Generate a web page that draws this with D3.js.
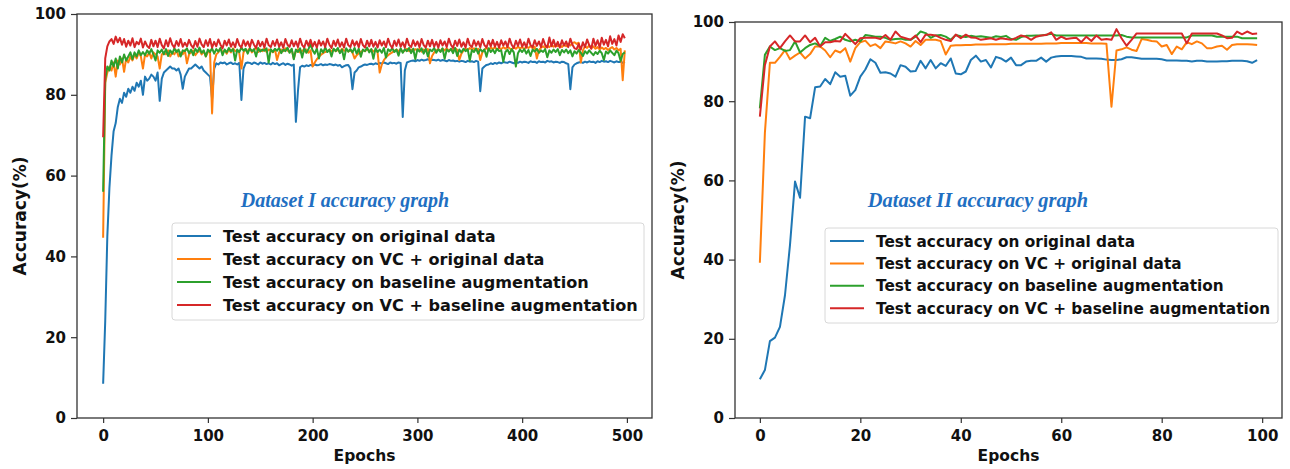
<!DOCTYPE html>
<html>
<head>
<meta charset="utf-8">
<script src="https://cdn.jsdelivr.net/npm/d3@7"></script>
<style>
  body { margin: 0; background: #fff; }
  svg { display: block; }
</style>
</head>
<body>
<svg></svg>
<script>
const seriesNames = [
	'Test accuracy on original data',
	'Test accuracy on VC + original data',
	'Test accuracy on baseline augmentation',
	'Test accuracy on VC + baseline augmentation'
];
const colors = ['#1f77b4', '#ff7f0e', '#2ca02c', '#d62728'];

const epochsI = d3.range(0, 500, 2);
const xTicksI = [0, 100, 200, 300, 400, 500];
const origI = [
	8.5, 24, 45, 57, 65, 71, 73, 77, 79, 78,
	80.5, 79.5, 81.5, 80.5, 82, 81, 83, 82, 83.5, 80,
	84.5, 83.5, 84, 85, 84.5, 83.5, 85.5, 78.5, 84, 85.5,
	86, 86.5, 87, 86.5, 86.5, 86, 86.5, 85, 81.5, 84.5,
	85.5, 86.5, 86.5, 87, 87.5, 87, 86.5, 87, 86, 85.5,
	85, 84.5, 79, 86.5, 87.8, 87.5, 88, 87.8, 88, 87.5,
	87.8, 88, 87.6, 87.8, 87.5, 87.9, 78.7, 86.5, 87.8, 88,
	87.9, 87.6, 88, 87.8, 87.5, 88, 87.7, 87.9, 87.6, 87.8,
	87.5, 87.9, 87.6, 87.8, 87.3, 87.6, 87.8, 87.4, 87.7, 87.5,
	87.2, 87.5, 73.3, 81, 86.8, 87.2, 87, 87.3, 87.1, 87.4,
	87.2, 87.5, 87.3, 87.4, 87.6, 87.3, 87.5, 87.4, 87.6, 87.5,
	87.3, 87.5, 87.2, 87.4, 86.8, 87.1, 87.3, 87.4, 86.5, 81.4,
	85.5, 86, 86.8, 87, 87.3, 87.5, 87.4, 87.6, 87.7, 87.5,
	87.8, 87.6, 87.9, 87.7, 88, 87.8, 87.6, 88, 87.8, 87.9,
	87.7, 88, 87.9, 74.5, 86, 88, 88.2, 88.4, 88.5, 88.3,
	88.6, 88.4, 88.7, 88.5, 88.6, 88.8, 88.5, 88.7, 88.6, 88.5,
	88.7, 88.4, 88.6, 88.5, 88.3, 88.6, 88.4, 88.5, 88.3, 88.4,
	88.2, 88.4, 88.3, 88.1, 88.4, 88.2, 88.3, 88.1, 88.4, 88.2,
	80.9, 86.5, 87, 87.4, 87.5, 87.8, 87.6, 87.9, 87.7, 88,
	87.8, 88.1, 88, 87.9, 88.2, 88, 87.8, 88.1, 87.9, 88.2,
	88, 88.2, 88.1, 87.9, 88.3, 88.1, 88.2, 87.9, 88.3, 88.1,
	88.2, 88, 88.4, 88.2, 88.3, 88, 88.2, 88.1, 87.9, 88.2,
	88.1, 87.8, 87.6, 81.4, 86.8, 87.5, 87.8, 88, 88.1, 87.9,
	88.2, 88, 88.3, 88.1, 88.2, 87.9, 88.3, 88.1, 88.4, 88.2,
	88.3, 88.1, 88.4, 88.2, 88, 88.3, 88.1, 88.2, 87.9, 88.2
];
const vcOrigI = [
	44.6, 83, 85.5, 87, 86, 88, 84.5, 88.5, 87.5, 89,
	85.7, 89, 88, 89.5, 88.5, 90, 89, 90.5, 89.5, 86.5,
	90, 89.5, 90.5, 89, 90.5, 90, 89.5, 86.5, 90, 90.5,
	90, 91, 89.5, 90.5, 90, 91, 89.5, 90.5, 90, 91,
	87.8, 90, 90.5, 91, 89.8, 90.5, 91, 90, 90.8, 89.5,
	90.5, 91, 75.4, 88, 90, 90.5, 91.5, 90.5, 91, 90.2,
	91.2, 90.5, 91.5, 90.8, 91, 90.3, 86.5, 90.5, 91.2, 90.8,
	91.5, 90.5, 91, 91.8, 90.6, 91.2, 90.8, 91.5, 90.6, 91.2,
	91, 90.5, 91.3, 88.6, 90.5, 91.2, 90.8, 91.5, 91, 90.6,
	91.2, 89, 90.8, 91.3, 90.5, 91, 90.7, 91.2, 90.4, 91,
	87, 88, 88.8, 89.4, 89.9, 90.3, 90.6, 90.8, 91.2, 90.7,
	91.3, 90.8, 91.1, 90.6, 91.4, 90.9, 91.2, 90.7, 91, 90.5,
	89, 89.8, 90.3, 90.6, 91, 90.8, 91.3, 90.9, 91.2, 90.7,
	91.1, 90.5, 85.5, 87.5, 88.6, 89.3, 89.8, 90.2, 90.5, 90.9,
	91.2, 90.8, 91.3, 90.6, 91, 91.4, 90.8, 91.2, 90.9, 91.3,
	91, 91.4, 90.7, 91.2, 90.9, 91.3, 87.8, 89.6, 90.5, 91,
	91.3, 90.8, 91.4, 91, 91.5, 90.9, 91.3, 91, 91.6, 91.1,
	88.6, 90.2, 91, 91.4, 91, 91.6, 91.2, 91.5, 91, 91.4,
	88.6, 90.5, 91.2, 91.6, 91.1, 91.7, 91.3, 91.8, 91.2, 91.6,
	91.3, 91.8, 91.4, 91.9, 91.5, 91.2, 91.8, 91.4, 91.9, 91.5,
	91.8, 91.3, 91.9, 91.6, 92, 91.5, 91.9, 89, 91, 91.7,
	92, 91.6, 92.2, 91.8, 92.3, 91.9, 92.4, 92, 92.3, 91.8,
	92.4, 92, 92.6, 92.2, 92.8, 93, 92.6, 92.9, 88, 91,
	92, 91.6, 92.2, 91.5, 92, 91.4, 91.8, 91.2, 91.7, 91.3,
	91.6, 91.1, 91.5, 91.8, 91.2, 91.6, 91, 91.4, 83.6, 91
];
const baseI = [
	56, 83.8, 87, 86, 88.5, 87, 89, 86.5, 89.5, 88,
	90, 88.5, 89.5, 90.5, 88.8, 90.5, 89.5, 91, 89.8, 90.6,
	89.8, 91, 90.2, 91.3, 90, 88.5, 91, 90.4, 91.2, 90,
	91.3, 89.6, 91, 90.2, 91.5, 90.6, 91.2, 89.5, 91, 90.8,
	91.5, 90.3, 91.2, 89.8, 91.4, 90.6, 91.7, 90.4, 91, 89.5,
	91.2, 90.6, 91.5, 90.2, 91.3, 90.7, 91.6, 89.8, 91.2, 90.5,
	91.6, 90.8, 91.3, 88.5, 91.2, 90.6, 91.7, 90.9, 91.4, 90.2,
	91.5, 90.8, 91.3, 89.5, 91.6, 90.7, 91.2, 90.9, 91.5, 88,
	91.3, 90.6, 91.4, 90.9, 91.6, 90.3, 91.2, 90.8, 91.7, 90.4,
	91.4, 88.8, 91.2, 90.6, 91.5, 89.2, 91.6, 90.4, 91.3, 92.5,
	91, 90.2, 91.5, 89, 91.3, 90.5, 91.7, 90.6, 91.2, 89.5,
	91.4, 90.8, 91.6, 90.3, 91.2, 88.8, 91.5, 90.7, 91.3, 90.5,
	91.6, 90.2, 91.4, 89.4, 91.2, 90.8, 91.7, 90.5, 91.3, 88.9,
	91.5, 90.6, 91.2, 90.4, 91.6, 89.2, 91.3, 90.8, 91.5, 90.6,
	91.2, 89.7, 91.5, 90.4, 91.3, 90.8, 91.6, 90.3, 91.4, 88.8,
	91.3, 90.7, 91.5, 90.2, 91.4, 89.5, 91.2, 90.8, 91.6, 90.4,
	91.3, 90.6, 91.5, 88.9, 91.2, 90.7, 91.4, 90.3, 91.6, 89.6,
	91.2, 90.5, 91.4, 90.8, 91.3, 88.5, 91.1, 90.6, 91.5, 90.2,
	91.3, 90.7, 91.2, 89.4, 91.5, 90.6, 91.2, 90.3, 91.4, 90.8,
	91, 88.2, 90.6, 91.2, 90.1, 91.3, 90.5, 87, 90.3, 91.2,
	90.6, 91.3, 90.2, 91.1, 89.6, 91.2, 90.7, 91.4, 90.4, 91,
	90.6, 91.3, 89.3, 91, 90.4, 91.2, 90.6, 91.3, 89.8, 91.1,
	90.5, 91.2, 90.3, 91, 89.5, 90.8, 90.2, 91.1, 90.4, 89.6,
	90.8, 90.2, 91, 90.4, 89.8, 90.6, 90.1, 90.9, 90.3, 88.6,
	90.7, 90.2, 91, 90.4, 89.8, 90.9, 90.3, 88.4, 90.1, 90.5
];
const vcBaseI = [
	69.5, 89, 92, 93.2, 93.8, 92.6, 94.4, 93, 94.1, 92.4,
	93.8, 91.9, 93.4, 92.2, 94, 91.8, 93.1, 92.5, 93.9, 91.7,
	93.2, 92.1, 91.6, 93.6, 92, 93.4, 91.8, 93.9, 92.3, 91.5,
	93.5, 92, 94, 92.4, 91.7, 93.3, 92.1, 93.8, 91.9, 92.9,
	92, 93.6, 92.3, 91.6, 93.3, 91.9, 93.9, 92.5, 91.8, 93.5,
	92.1, 93.8, 91.7, 93.1, 92, 93.7, 92.4, 91.5, 93.4, 92.2,
	93.7, 91.9, 93, 91.8, 93.8, 92.3, 91.7, 93.5, 92.1, 93.2,
	91.8, 93.6, 92.4, 91.6, 93.4, 92, 93.1, 91.7, 93.9, 92.3,
	91.8, 93.3, 92.1, 93.7, 91.9, 93, 91.6, 93.8, 92.4, 91.9,
	93.5, 92, 93.2, 91.8, 93.9, 92.3, 91.7, 93.4, 92.1, 93.6,
	91.9, 93.1, 91.7, 93.5, 92.2, 93.2, 91.8, 93.9, 92.4, 91.6,
	93.4, 92.1, 93.7, 91.9, 93, 91.7, 93.9, 92.3, 91.8, 93.5,
	92.1, 93.2, 91.8, 93.8, 92.3, 91.7, 93.4, 92, 93.6, 91.9,
	93.1, 91.7, 93.5, 92.2, 93.2, 91.8, 93.9, 92.4, 91.6, 93.4,
	92.1, 93.7, 91.9, 93, 91.7, 93.9, 92.3, 91.8, 93.5, 92.1,
	93.2, 91.8, 93.8, 92.3, 91.7, 93.4, 92, 93.6, 91.9, 93.1,
	91.7, 93.5, 92.2, 93.2, 91.8, 93.9, 92.4, 91.6, 93.4, 92.1,
	93.7, 91.9, 93, 91.7, 93.9, 92.3, 91.8, 93.5, 92.1, 93.2,
	91.8, 93.8, 92.3, 91.7, 93.4, 92, 93.6, 91.9, 93.1, 91.7,
	93.5, 92.2, 93.2, 91.8, 93.9, 92.4, 91.6, 93.4, 92.1, 93.7,
	91.9, 93, 91.7, 93.9, 92.3, 91.8, 93.5, 92.1, 93.2, 91.8,
	93.8, 92.3, 91.7, 94.2, 92, 93.6, 91.9, 93.1, 91.7, 93.5,
	92.2, 93.2, 91.8, 93.9, 92.4, 91.5, 91.3, 92.6, 91.2, 93,
	91.8, 93.7, 92.3, 91.4, 93.9, 92.1, 93.5, 91.7, 94.1, 92.4,
	93.6, 92, 94.5, 92.6, 93.8, 92.2, 94.7, 93.1, 95, 94
];

// Dataset II: one reading per epoch
const epochsII = d3.range(0, 100);
const xTicksII = [0, 20, 40, 60, 80, 100];
const origII = [
	9.8, 12.1, 19.4, 20.3, 23, 31, 43.7, 59.7, 55.6, 76.1,
	75.7, 83.5, 83.7, 85.6, 84.3, 87.3, 86.2, 86.4, 81.4, 82.8,
	86.2, 88, 90.6, 89.7, 87.2, 87.3, 87, 86.2, 89.1, 88.7,
	87.5, 87.6, 90.2, 88.3, 90.4, 88.3, 89.6, 88.9, 90.8, 87,
	86.8, 87.5, 90.4, 91.5, 90, 90.4, 88.5, 91.2, 90.8, 90,
	91, 89.1, 89.1, 90, 90.2, 90.2, 91, 90, 91, 91.3,
	91.4, 91.4, 91.4, 91.3, 91.2, 90.8, 90.8, 90.8, 90.7, 90.5,
	90.4, 90.4, 90.6, 91.1, 91.1, 90.9, 90.7, 90.7, 90.7, 90.7,
	90.6, 90.3, 90.3, 90.3, 90.2, 90.2, 90, 90.2, 90.2, 90,
	90, 90, 90.1, 90.1, 90.2, 90.2, 90.2, 90.1, 89.7, 90.4
];
const vcOrigII = [
	39.2, 72, 89.7, 89.7, 91.2, 92.9, 90.6, 91.5, 92.3, 90.8,
	91.9, 93.8, 93.8, 92.8, 91.1, 92.8, 92.3, 93.4, 90, 93.4,
	94.9, 95.3, 93.9, 94.4, 93.4, 95.1, 94.9, 94.6, 95.1, 94.6,
	93.8, 95.2, 94.2, 95.5, 95.5, 95.5, 95.2, 91.8, 94, 94.1,
	94.1, 94.2, 94.2, 94.3, 94.3, 94.3, 94.4, 94.4, 94.4, 94.4,
	94.5, 94.5, 94.5, 94.5, 94.5, 94.5, 94.5, 94.6, 94.6, 94.6,
	94.7, 94.7, 94.7, 94.7, 94.7, 94.7, 94.6, 94.6, 94.6, 94.5,
	78.6, 92.8, 93.1, 93.6, 93, 92.7, 95.7, 95.5, 95.2, 95.1,
	93.8, 94.2, 91.9, 93.8, 93.1, 94.9, 94.4, 95.1, 94.6, 93.4,
	93.4, 93.8, 94, 93, 94.2, 94.4, 94.4, 94.4, 94.3, 94.2
];
const baseII = [
	78.2, 91.7, 93.8, 92.9, 93.4, 92.7, 92.9, 95.1, 92.3, 93.4,
	94.2, 94.6, 93.9, 96, 95.2, 95.7, 96.3, 95.5, 95.1, 95.5,
	95.1, 96.7, 96.5, 96.3, 96.3, 96, 95.5, 95.7, 95.8, 95.5,
	95.5, 96.3, 97.6, 97.2, 96, 96.6, 96.7, 96.3, 95.5, 96.7,
	96.4, 96.2, 96.5, 96.3, 96.4, 96.2, 96, 96.4, 96.2, 96.5,
	95.7, 95.5, 96.2, 96.5, 96.5, 96.6, 96.6, 96.8, 97, 96.6,
	96.6, 96.6, 96.6, 96.6, 96.6, 96.6, 96.6, 96.6, 96.6, 96.6,
	96.6, 96.6, 96.7, 96.3, 96.1, 96.1, 96.1, 96.1, 96.1, 96.1,
	96.1, 96.1, 96.1, 96.1, 96.1, 96.1, 96.6, 96.6, 96.6, 96.6,
	96.6, 96.3, 96.3, 96.3, 96.3, 96.3, 95.9, 95.9, 95.9, 95.9
];
const vcBaseII = [
	76.1, 89.1, 93.8, 95.1, 93.4, 95.1, 96.6, 95.1, 95.1, 96.6,
	94.9, 96, 93.8, 94.9, 94.9, 95.2, 95.1, 97, 95.7, 94.4,
	95.9, 96, 96, 96, 95.7, 96.7, 95.5, 97.6, 96.3, 95.9,
	95.5, 96.6, 94.9, 96.8, 96.8, 96.6, 96, 95.5, 95.2, 96.8,
	95.9, 96.8, 96.1, 96, 95.5, 95.7, 95.9, 95.5, 95.9, 95.7,
	95.5, 96, 96.6, 96.3, 95.5, 96.3, 96.6, 96.7, 97.4, 95.5,
	96.3, 95.7, 95.9, 96, 94.9, 96.3, 95.2, 96.6, 95.5, 95.7,
	95.5, 98.2, 95.9, 94, 95.5, 97.1, 97.1, 97.1, 97.1, 97.1,
	97.1, 97.1, 97.1, 97.1, 97.1, 94.6, 97.1, 97.1, 97.1, 97.1,
	97.1, 97.1, 96.6, 95.9, 96, 97.6, 96.9, 97.6, 97, 97.1
];
const yTicks = [0, 20, 40, 60, 80, 100];

const width = 1290;
const height = 469;

const svg = d3.select('svg')
	.attr('width', width)
	.attr('height', height)
	.style('font-family', '"DejaVu Sans", sans-serif');

function drawPanel(p) {
	const g = svg.append('g');
	const x = d3.scaleLinear().domain(p.xDomain).range([p.left, p.right]);
	const y = d3.scaleLinear().domain([0, 100]).range([p.bottom, p.top]);

	const line = d3.line()
		.x((d, i) => x(p.epochs[i]))
		.y(d => y(d));

	g.append('g')
		.selectAll('path')
		.data(p.series)
		.enter().append('path')
			.attr('d', d => line(d))
			.attr('fill', 'none')
			.attr('stroke', (d, i) => colors[i])
			.attr('stroke-width', 2)
			.attr('stroke-linejoin', 'round');

	const xAxis = g.append('g')
		.attr('transform', `translate(0,${p.bottom})`)
		.call(d3.axisBottom(x).tickValues(p.xTicks).tickSize(5).tickPadding(7).tickFormat(d3.format('d')));
	const yAxis = g.append('g')
		.attr('transform', `translate(${p.left},0)`)
		.call(d3.axisLeft(y).tickValues(yTicks).tickSize(6).tickPadding(5));
	[xAxis, yAxis].forEach(a => {
		a.select('.domain').remove();
		a.selectAll('line').attr('stroke', '#333').attr('stroke-width', 1.2);
		a.selectAll('text')
			.attr('fill', '#111')
			.style('font-family', '"DejaVu Sans", sans-serif')
			.style('font-size', '15px')
			.style('font-weight', 'bold');
	});

	g.append('rect')
		.attr('x', p.left)
		.attr('y', p.top)
		.attr('width', p.right - p.left)
		.attr('height', p.bottom - p.top)
		.attr('fill', 'none')
		.attr('stroke', '#333')
		.attr('stroke-width', 1.3);

	g.append('text')
		.text('Epochs')
		.attr('x', (p.left + p.right) / 2)
		.attr('y', 461)
		.attr('text-anchor', 'middle')
		.attr('font-size', 15.5)
		.attr('font-weight', 'bold')
		.attr('fill', '#111');

	g.append('text')
		.text('Accuracy(%)')
		.attr('transform', `translate(${p.ylabelX},${(p.top + p.bottom) / 2}) rotate(-90)`)
		.attr('text-anchor', 'middle')
		.attr('font-size', 17)
		.attr('font-weight', 'bold')
		.attr('fill', '#111');

	g.append('text')
		.text(p.title)
		.attr('x', p.titleX)
		.attr('y', 207)
		.attr('text-anchor', 'middle')
		.attr('font-family', '"Liberation Serif", "Times New Roman", serif')
		.attr('font-style', 'italic')
		.attr('font-weight', 'bold')
		.attr('font-size', p.titleSize)
		.attr('fill', '#1f6fc2');

	// legend
	const lg = g.append('g');
	lg.append('rect')
		.attr('x', p.legend.x)
		.attr('y', p.legend.y)
		.attr('width', p.legend.w)
		.attr('height', p.legend.h)
		.attr('rx', 3)
		.attr('fill', '#fff')
		.attr('fill-opacity', 0.85)
		.attr('stroke', '#d8d8d8');
	const rows = lg.selectAll('g.row')
		.data(seriesNames)
		.enter().append('g')
			.attr('class', 'row')
			.attr('transform', (d, i) => `translate(${p.legend.x},${p.legend.y + p.legend.first + i * p.legend.step})`);
	rows.append('line')
		.attr('x1', 5)
		.attr('x2', 39)
		.attr('stroke', (d, i) => colors[i])
		.attr('stroke-width', 2);
	rows.append('text')
		.text(d => d)
		.attr('x', 51)
		.attr('dy', '0.36em')
		.attr('font-size', p.legend.font)
		.attr('font-weight', 'bold')
		.attr('fill', '#111');
}

drawPanel({
	epochs: epochsI,
	series: [origI, vcOrigI, baseI, vcBaseI],
	xDomain: [-24.95, 523.95],
	xTicks: xTicksI,
	left: 77, right: 652, top: 14, bottom: 418,
	ylabelX: 26,
	title: 'Dataset I accuracy graph',
	titleX: 345,
	titleSize: 20,
	legend: {x: 172, y: 223, w: 472, h: 97, first: 13, step: 23, font: 16.1}
});

drawPanel({
	epochs: epochsII,
	series: [origII, vcOrigII, baseII, vcBaseII],
	xDomain: [-4.95, 103.95],
	xTicks: xTicksII,
	left: 735, right: 1282, top: 22, bottom: 418,
	ylabelX: 684,
	title: 'Dataset II accuracy graph',
	titleX: 978,
	titleSize: 20.4,
	legend: {x: 825, y: 228, w: 453, h: 95, first: 13, step: 22.4, font: 15.3}
});
</script>
</body>
</html>
